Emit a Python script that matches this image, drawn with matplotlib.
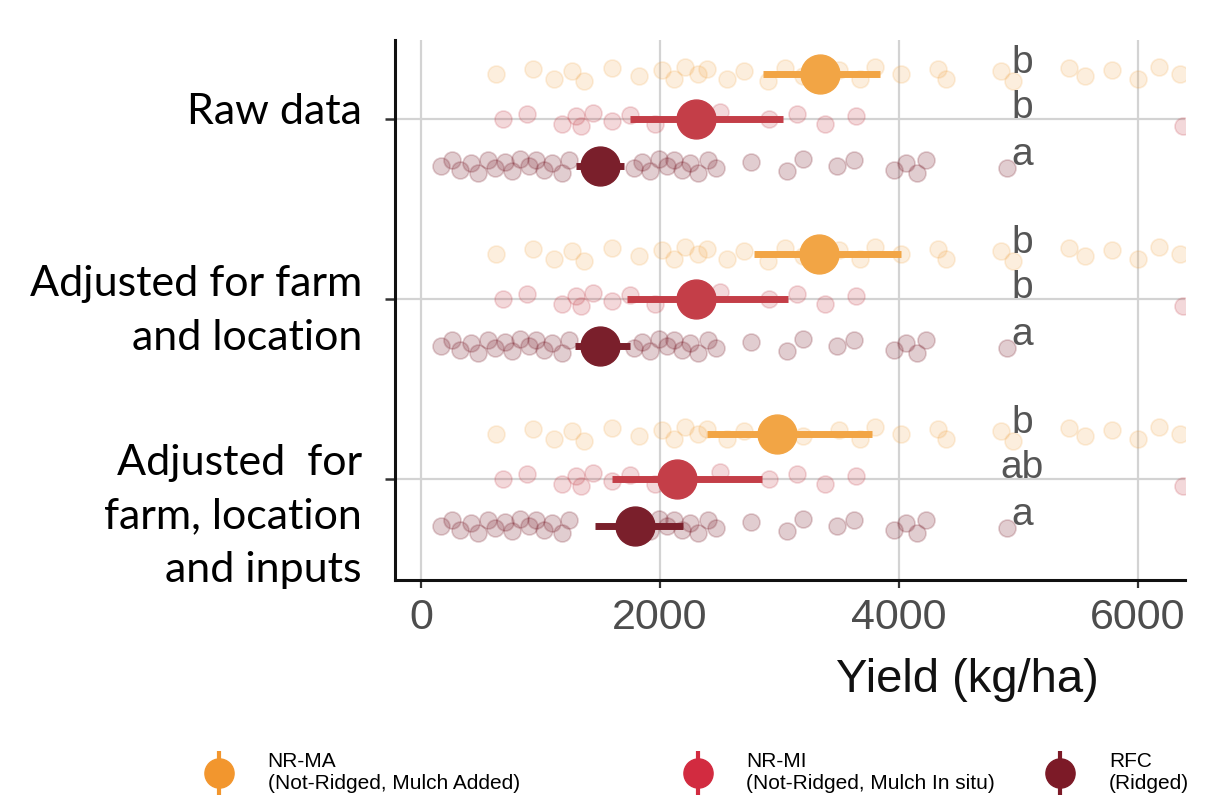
import matplotlib
matplotlib.use("Agg")
import matplotlib.pyplot as plt
from matplotlib.lines import Line2D
from matplotlib.legend_handler import HandlerTuple

# model panels, top to bottom
groups = ["Raw data",
          "Adjusted for farm\nand location",
          "Adjusted  for\nfarm, location\nand inputs"]
group_y = [3, 2, 1]

treatments = ["NR-MA", "NR-MI", "RFC"]
treatment_desc = ["(Not-Ridged, Mulch Added)",
                  "(Not-Ridged, Mulch In situ)",
                  "(Ridged)"]

# plot-level yields (kg/ha)
raw_nrma = [630, 940, 1110, 1260, 1360, 1600, 1820, 2020, 2120, 2210, 2320,
            2390, 2560, 2700, 2900, 3050, 3200, 3500, 3670, 3800, 4020, 4330,
            4390, 4850, 4950, 5420, 5560, 5780, 6000, 6180, 6350]
raw_nrmi = [690, 890, 1180, 1300, 1340, 1440, 1600, 1750, 1960, 2500, 2910,
            3150, 3380, 3640, 6380]
raw_rfc = [170, 260, 330, 420, 480, 560, 620, 700, 760, 830, 900, 960, 1030,
           1100, 1180, 1240, 1780, 1850, 1920, 1990, 2060, 2120, 2180, 2250,
           2320, 2400, 2470, 2760, 3060, 3200, 3480, 3620, 3960, 4060, 4150,
           4230, 4900]

# estimated means and intervals, one value per panel
mean_nrma = [3340, 3330, 2980]
low_nrma = [2860, 2790, 2390]
high_nrma = [3840, 4020, 3770]
mean_nrmi = [2300, 2300, 2140]
low_nrmi = [1750, 1720, 1600]
high_nrmi = [3030, 3070, 2850]
mean_rfc = [1500, 1500, 1790]
low_rfc = [1300, 1290, 1460]
high_rfc = [1700, 1750, 2190]

letters_nrma = ["b", "b", "b"]
letters_nrmi = ["b", "b", "ab"]
letters_rfc = ["a", "a", "a"]

xticks = [0, 2000, 4000, 6000]

colors = ["#F2A545", "#C43E48", "#7A1F2B"]
legend_colors = ["#F2962E", "#D22B40", "#7C1A27"]
offsets = [0.25, 0.0, -0.26]
jitter = [0.0, 0.03, -0.025, 0.015, -0.04, 0.035, -0.01, 0.02, -0.03, 0.04]

raws = [raw_nrma, raw_nrmi, raw_rfc]
means = [mean_nrma, mean_nrmi, mean_rfc]
lows = [low_nrma, low_nrmi, low_rfc]
highs = [high_nrma, high_nrmi, high_rfc]
letters = [letters_nrma, letters_nrmi, letters_rfc]
raw_alpha = [0.18, 0.2, 0.22]

fig = plt.figure(figsize=(12.09, 8.02), dpi=100)
ax = fig.add_axes([0.3267, 0.2768, 0.6534, 0.6733])

for gi, gy in enumerate(group_y):
    for ti in range(3):
        y = gy + offsets[ti]
        vals = raws[ti]
        ys = [y + jitter[k % len(jitter)] for k in range(len(vals))]
        ax.scatter(vals, ys, s=150, facecolor=colors[ti], edgecolor=colors[ti],
                   alpha=raw_alpha[ti], linewidth=1.2, zorder=2)
        ax.plot([lows[ti][gi], highs[ti][gi]], [y, y], color=colors[ti],
                lw=5, solid_capstyle="butt", zorder=3)
        ax.plot(means[ti][gi], y, "o", color=colors[ti], ms=28, zorder=4)
        ax.text(5030, y + 0.06, letters[ti][gi], ha="center", va="center",
                fontsize=28, color="#555555", family="Liberation Sans", zorder=5)

ax.set_xlim(-218, 6393)
ax.set_ylim(0.439, 3.439)
ax.set_xticks(xticks)
ax.set_xticklabels([str(t) for t in xticks])
ax.set_yticks(group_y)
ax.set_yticklabels([])
ax.grid(True, color="#D3D3D3", lw=1.6, zorder=0)
ax.set_axisbelow(True)

for side in ["top", "right"]:
    ax.spines[side].set_visible(False)
for side in ["left", "bottom"]:
    ax.spines[side].set_linewidth(2.2)
    ax.spines[side].set_color("#111111")

ax.tick_params(axis="x", length=6, width=1.6, color="#333333", pad=7,
               labelsize=31, labelcolor="#4D4D4D")
ax.tick_params(axis="y", length=7, width=1.8, color="#333333")
for lab in ax.get_xticklabels():
    lab.set_family("Liberation Sans")

ax.set_xlabel("Yield (kg/ha)", fontsize=34, family="Liberation Sans",
              color="#111111")
ax.xaxis.set_label_coords(0.725, -0.185)
ax.xaxis.label.set_va("center")

# panel names on the left
label_y = [0.8603, 0.6122, 0.3566]
for name, ly in zip(groups, label_y):
    fig.text(0.2994, ly, name, ha="right", va="center", fontsize=31,
             family="Lato", linespacing=1.5, color="black")

# legend entries: point with a vertical interval line
legend_x = [0.168, 0.564, 0.864]
for ti in range(3):
    h = (Line2D([], [], color=legend_colors[ti], marker="|", ms=32, mew=3,
                linestyle="none"),
         Line2D([], [], color=legend_colors[ti], marker="o", ms=21,
                linestyle="none"))
    fig.legend([h], [treatments[ti] + "\n" + treatment_desc[ti]],
               handler_map={tuple: HandlerTuple(ndivide=1)},
               loc="center left", bbox_to_anchor=(legend_x[ti], 0.037),
               frameon=False, handlelength=1.5,
               handletextpad=1.6, borderpad=0, borderaxespad=0,
               prop={"family": "Liberation Sans", "size": 15})

fig.savefig("out.png", dpi=100)
